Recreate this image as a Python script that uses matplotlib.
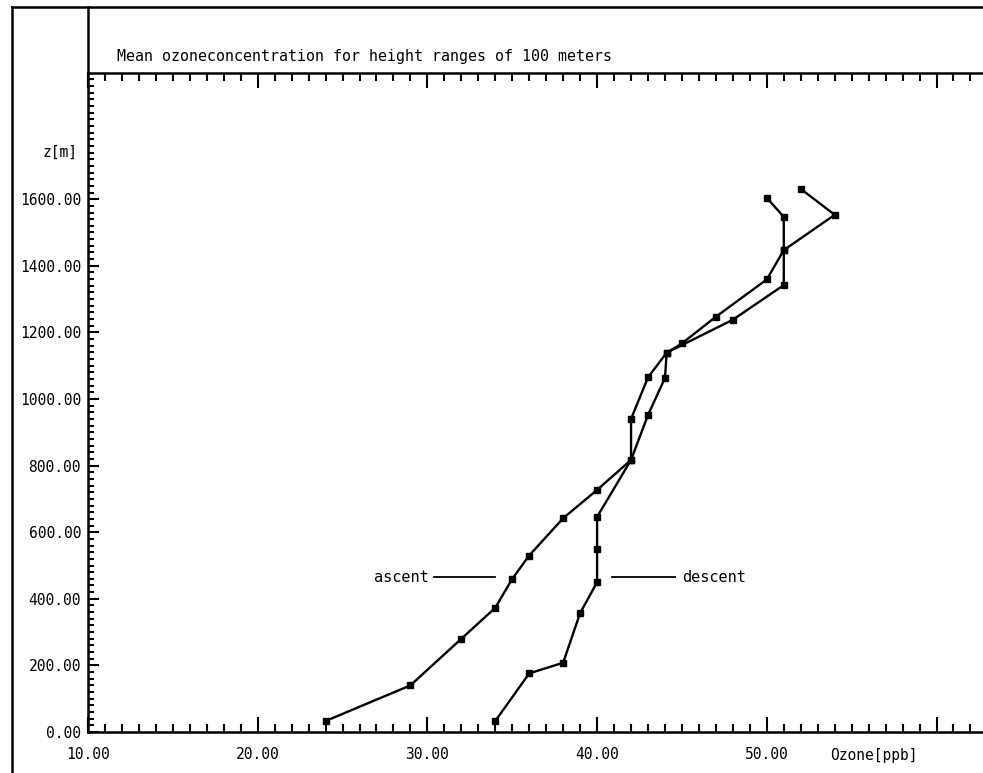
import matplotlib
matplotlib.use("Agg")
import matplotlib.pyplot as plt
from matplotlib.lines import Line2D
from matplotlib.ticker import MultipleLocator, FixedLocator

# Mean ozone concentration (ppb) per 100 m height range
ascent_ozone = [24, 29, 32, 34, 35, 36, 38, 40, 42, 43, 44, 44.1, 48, 51, 51, 54, 52]
ascent_height = [33, 140, 280, 373, 460, 530, 642, 727, 817, 952, 1063, 1139,
                 1238, 1342, 1447, 1553, 1631]

descent_ozone = [34, 36, 38, 39, 40, 40, 40, 42, 42, 43, 44.1, 45, 47, 50, 51, 51, 50]
descent_height = [33, 176, 208, 357, 450, 550, 646, 817, 940, 1065, 1139, 1167,
                  1247, 1359, 1447, 1547, 1604]

x_major = [10, 20, 30, 40, 50, 60]
x_labels = ["10.00", "20.00", "30.00", "40.00", "50.00", ""]
y_major = list(range(0, 1800, 200))

title_text = "Mean ozoneconcentration for height ranges of 100 meters"
font = "DejaVu Sans Mono"

W, H = 983, 773
fig = plt.figure(figsize=(W / 100, H / 100), dpi=100)

left, right, top, bottom = 88, 983, 73, 732
ax = fig.add_axes([left / W, (H - bottom) / H, (right - left) / W, (bottom - top) / H])
ax.set_xlim(10, 10 + (right - left) / 16.97)
ax.set_ylim(0, (bottom - top) / 0.333)

ax.plot(ascent_ozone, ascent_height, color="black", lw=1.7, marker="s",
        ms=4, clip_on=False)
ax.plot(descent_ozone, descent_height, color="black", lw=1.7, marker="s",
        ms=4, clip_on=False)

# spines
for side in ("left", "bottom", "top"):
    ax.spines[side].set_linewidth(1.8)
ax.spines["right"].set_visible(False)

# ticks
ax.xaxis.set_major_locator(FixedLocator(x_major))
ax.xaxis.set_minor_locator(MultipleLocator(1))
ax.set_xticklabels(x_labels)
ax.yaxis.set_major_locator(FixedLocator(y_major))
ax.yaxis.set_minor_locator(MultipleLocator(20))
ax.set_yticklabels([f"{v:.2f}" for v in y_major])

ax.tick_params(axis="x", which="both", direction="in", top=True, bottom=True,
               labeltop=False, width=1.5, color="black")
ax.tick_params(axis="x", which="major", length=11, pad=11)
ax.tick_params(axis="x", which="minor", length=6)
ax.tick_params(axis="y", which="both", direction="in", left=True, right=False,
               width=1.5, color="black")
ax.tick_params(axis="y", which="major", length=8, pad=5)
ax.tick_params(axis="y", which="minor", length=4)

for lab in ax.get_xticklabels() + ax.get_yticklabels():
    lab.set_fontfamily(font)
    lab.set_fontsize(10.5)

# axis captions
ax.text(-0.012, 1742, "z[m]", transform=ax.get_yaxis_transform(),
        ha="right", va="center", fontfamily=font, fontsize=10.5)
ax.text(56.3, -0.036, "Ozone[ppb]", transform=ax.get_xaxis_transform(),
        ha="center", va="center", fontfamily=font, fontsize=10.5)

# series annotations
ax.plot([30.4, 34.0], [465, 465], color="black", lw=1.3)
ax.text(30.1, 465, "ascent", ha="right", va="center", fontfamily=font, fontsize=11)
ax.plot([40.9, 44.6], [465, 465], color="black", lw=1.3)
ax.text(45.0, 465, "descent", ha="left", va="center", fontfamily=font, fontsize=11)

# frame around the plot and title band
def fig_line(x0, y0, x1, y1, lw=1.8):
    fig.add_artist(Line2D([x0 / W, x1 / W], [1 - y0 / H, 1 - y1 / H],
                          color="black", lw=lw, transform=fig.transFigure))

fig_line(12, 7, W, 7)
fig_line(12, 7, 12, H)
fig_line(left, 7, left, top)

fig.text(117 / W, 1 - 56 / H, title_text, ha="left", va="center",
         fontfamily=font, fontsize=10.8)

fig.savefig("out.png", dpi=100)
